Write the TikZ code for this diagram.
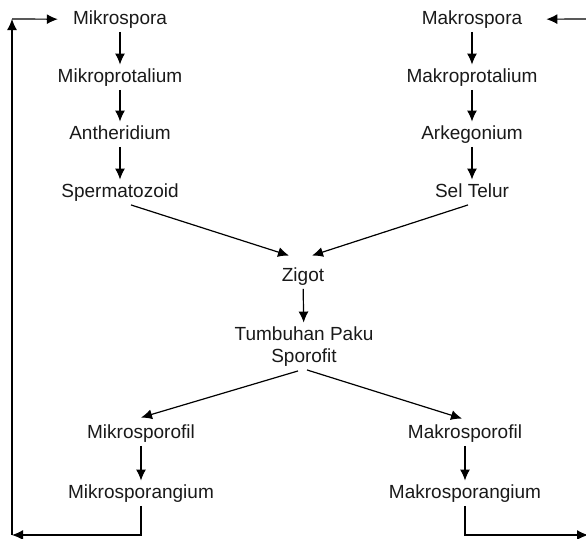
\documentclass[tikz,border=0pt]{standalone}
\usepackage{fontspec}
\setmainfont{Liberation Sans}
\usetikzlibrary{arrows.meta}
\begin{document}
\begin{tikzpicture}[x=1pt,y=-1pt,
  lbl/.style={inner sep=3pt, text height=14.25pt, text depth=4.75pt,
    font=\fontsize{19}{22}\selectfont, text=black!90, anchor=base},
  arr/.style={line width=1.2pt, -{Latex[length=11pt,width=10pt]}}]
\useasboundingbox (0,0) rectangle (586,538);
\clip (0,0) rectangle (586,538);

% male branch
\node[lbl] (mispora) at (120,24) {Mikrospora};
\node[lbl] (miprot)  at (120,82) {Mikroprotalium};
\node[lbl] (anther)  at (120,139) {Antheridium};
\node[lbl] (sperma)  at (120,197) {Spermatozoid};

% female branch
\node[lbl] (maspora) at (472,24) {Makrospora};
\node[lbl] (maprot)  at (472,82) {Makroprotalium};
\node[lbl] (arkeg)   at (472,139) {Arkegonium};
\node[lbl] (telur)   at (472,197) {Sel Telur};

% sporophyte (two lines, anchored at the last baseline)
\node[lbl] (zigot) at (303,281) {Zigot};
\node[lbl, align=center, text height=36.25pt] (paku) at (304,362)
  {Tumbuhan Paku\\Sporofit};

\node[lbl] (misofil)  at (141,438) {Mikrosporofil};
\node[lbl] (misang)   at (141,498) {Mikrosporangium};
\node[lbl] (masofil)  at (465,438) {Makrosporofil};
\node[lbl] (masang)   at (465,498) {Makrosporangium};

% loop corners
\coordinate (bl) at (12,535);
\coordinate (tl) at (12,19);
\coordinate (br) at (588,535);
\coordinate (tr) at (590,19);

\draw[arr] (mispora) -- (miprot);
\draw[arr] (miprot) -- (anther);
\draw[arr] (anther) -- (sperma);
\draw[arr] (maspora) -- (maprot);
\draw[arr] (maprot) -- (arkeg);
\draw[arr] (arkeg) -- (telur);

\draw[arr] ([xshift=11pt]sperma.south) -- ([xshift=-14pt,yshift=8pt]zigot.north);
\draw[arr] ([xshift=-4pt]telur.south) -- ([xshift=9pt,yshift=8pt]zigot.north);
\draw[arr] (zigot) -- (paku);
\draw[arr] ([xshift=-6pt,yshift=-1pt]paku.south) -- ([yshift=3pt]misofil.north);
\draw[arr] ([xshift=3pt]paku.south) -- ([xshift=-3pt,yshift=2pt]masofil.north);
\draw[arr] (misofil) -- (misang);
\draw[arr] (masofil) -- (masang);

% return paths to the spores
\draw[arr] (misang.south) |- (bl);
\draw[arr] (bl) -- (tl);
\draw[arr, shorten >=12pt] (tl) -- (mispora.west);
\draw[arr] (masang.south) |- (br);
\draw[arr, shorten >=21pt] (tr) -- (maspora.east);
\end{tikzpicture}
\end{document}
